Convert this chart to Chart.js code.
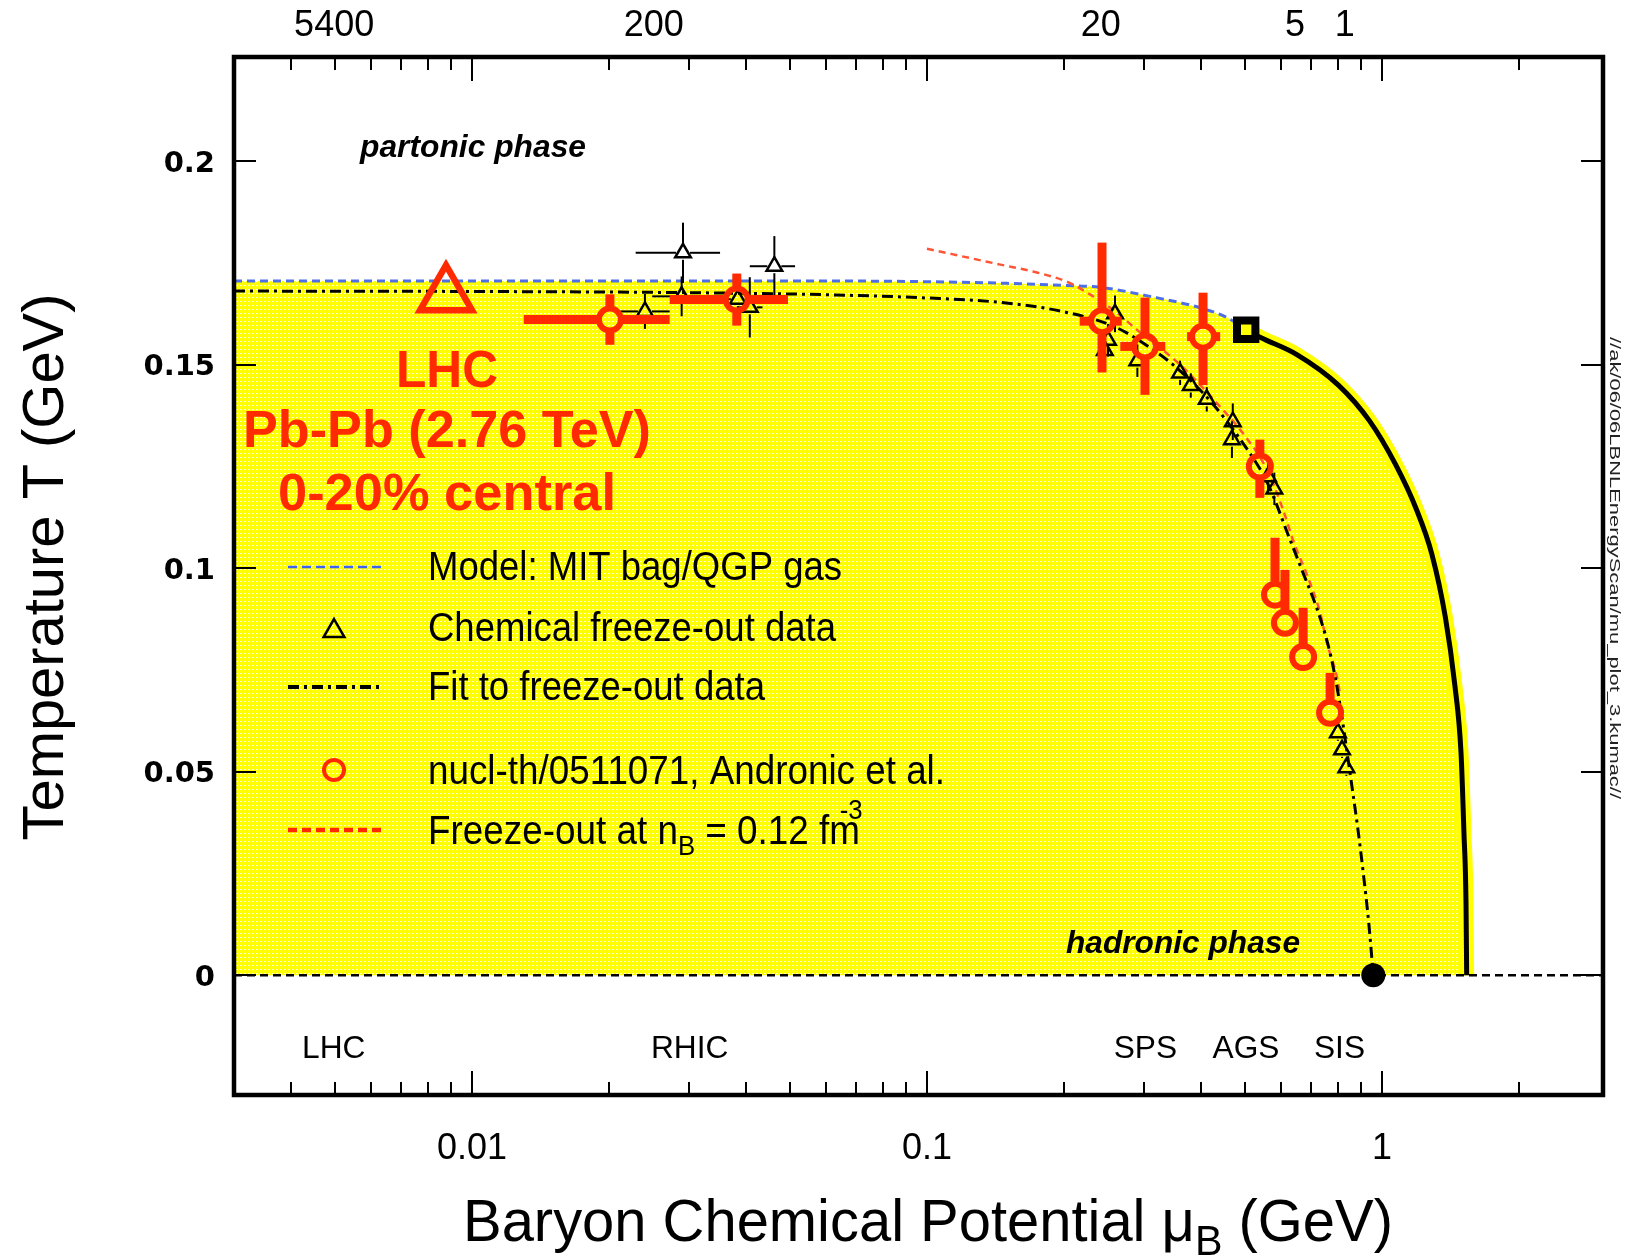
<!DOCTYPE html>
<html>
<head>
<meta charset="utf-8">
<title>QCD phase diagram</title>
<script src="https://cdn.jsdelivr.net/npm/chart.js@4.4.0/dist/chart.umd.min.js"></script>
<style>
  html, body { margin: 0; padding: 0; background: #fff; overflow: hidden; }
  #wrap { width: 1627px; height: 1260px; }
  canvas { display: block; }
</style>
</head>
<body>
<div id="wrap"><canvas id="phaseChart" width="1627" height="1260"></canvas></div>
<script>
// axis ranges (muB in GeV, T in GeV)
const X_MIN = 0.003, X_MAX = 3.06;
const Y_MIN = -0.0294, Y_MAX = 0.2256;

const yTickValues = [0, 0.05, 0.1, 0.15, 0.2];
const yTickLabels = ['0', '0.05', '0.1', '0.15', '0.2'];
const xMajorTicks = [0.01, 0.1, 1];
const xMajorLabels = ['0.01', '0.1', '1'];
const xMinorTicks = [0.004, 0.005, 0.006, 0.007, 0.008, 0.009,
  0.02, 0.03, 0.04, 0.05, 0.06, 0.07, 0.08, 0.09,
  0.2, 0.3, 0.4, 0.5, 0.6, 0.7, 0.8, 0.9, 2];
// sqrt(s_NN) labels on the top axis
const topLabels = ['5400', '200', '20', '5', '1'];
const topLabelMu = [0.00498, 0.0251, 0.241, 0.644, 0.828];
const facilities = ['LHC', 'RHIC', 'SPS', 'AGS', 'SIS'];
const facilityMu = [0.00497, 0.0301, 0.302, 0.5025, 0.8066];

// MIT bag / QGP gas boundary (blue dashed)
const mitBagMu = [0.003, 0.05, 0.1, 0.15, 0.2, 0.241, 0.309, 0.398, 0.456, 0.503];
const mitBagT  = [0.1706, 0.1706, 0.1704, 0.1700, 0.1695, 0.1690, 0.1668, 0.1640, 0.1616, 0.1586];
// first order transition line (solid black)
const transMu = [0.503, 0.541, 0.65, 0.802, 0.939, 1.071, 1.19, 1.287, 1.378, 1.445, 1.492, 1.514, 1.530, 1.535];
const transT  = [0.1586, 0.1567, 0.1525, 0.1450, 0.1362, 0.1255, 0.1145, 0.1035, 0.0880, 0.0715, 0.0545, 0.0350, 0.0175, 0];
// fit to freeze-out data (dash-dot)
const fitMu = [0.003, 0.01, 0.03, 0.06, 0.1, 0.145, 0.2, 0.26, 0.325, 0.36, 0.42, 0.5, 0.56, 0.628, 0.67, 0.72, 0.76, 0.79, 0.815, 0.835, 0.86, 0.885, 0.91, 0.935, 0.957];
const fitT  = [0.1681, 0.1680, 0.1677, 0.1672, 0.1664, 0.1653, 0.1630, 0.1592, 0.1525, 0.1485, 0.1410, 0.1300, 0.1210, 0.1070, 0.0990, 0.0900, 0.0815, 0.0730, 0.0640, 0.0560, 0.0460, 0.0360, 0.0250, 0.0130, 0];
// freeze-out at n_B = 0.12 fm^-3 (red dashed)
const nbMu = [0.1, 0.145, 0.171, 0.203, 0.225, 0.26, 0.29, 0.36, 0.43, 0.5, 0.559, 0.606, 0.637, 0.695, 0.731, 0.757, 0.796, 0.808];
const nbT  = [0.1785, 0.1746, 0.1729, 0.1704, 0.1677, 0.1630, 0.1585, 0.1500, 0.1410, 0.1325, 0.1242, 0.1144, 0.1070, 0.0964, 0.0891, 0.0817, 0.0733, 0.0694];

// chemical freeze-out data (triangles)
const triMu   = [0.0291, 0.0462, 0.0240, 0.0289, 0.0384, 0.0408, 0.259, 0.250, 0.246, 0.290, 0.360, 0.380, 0.412, 0.470, 0.468, 0.562, 0.580, 0.800, 0.817, 0.835];
const triT    = [0.1775, 0.1742, 0.1631, 0.1668, 0.1661, 0.1641, 0.1625, 0.1560, 0.1535, 0.1510, 0.1480, 0.1449, 0.1415, 0.1360, 0.1316, 0.1225, 0.1195, 0.0596, 0.0554, 0.0510];
const triTErr = [0.0074, 0.0074, 0.0043, 0.0049, 0.0058, 0.0074, 0.0045, 0.004, 0.004, 0.004, 0.003, 0.003, 0.003, 0.0045, 0.0045, 0.004, 0.004, 0.002, 0.002, 0.002];
const triMuLo = [0.0229, 0.0408, 0.0212, 0.0249, 0.0341, 0.0383, null, null, null, null, null, null, null, null, null, null, null, null, null, null];
const triMuHi = [0.0351, 0.0513, 0.0272, 0.0298, 0.0435, 0.0435, null, null, null, null, null, null, null, null, null, null, null, null, null, null];

// nucl-th/0511071, Andronic et al. (red circles)
const andMu   = [0.0201, 0.0382, 0.2425, 0.3014, 0.4043, 0.539, 0.582, 0.612, 0.671, 0.769];
const andT    = [0.1611, 0.1660, 0.1607, 0.1545, 0.1569, 0.1250, 0.0935, 0.0866, 0.0782, 0.0645];
const andTLo  = [0.1549, 0.1596, 0.1481, 0.1426, 0.1450, 0.1173, 0.0935, 0.0866, 0.0782, 0.0645];
const andTHi  = [0.1673, 0.1724, 0.1800, 0.1665, 0.1677, 0.1316, 0.1075, 0.0996, 0.0903, 0.0743];
const andMuLo = [0.0130, 0.0272, 0.2166, 0.266, 0.373, null, null, null, null, null];
const andMuHi = [0.0272, 0.0495, 0.268, 0.334, 0.441, null, null, null, null, null];

// LHC Pb-Pb 2.76 TeV point, critical point, nuclear matter point
const lhcMu = [0.00877], lhcT = [0.1671];
const critMu = [0.503], critT = [0.1586];
const nucMu = [0.957], nucT = [0];

const RED = '#ff2a00';
const pts = (xs, ys) => xs.map((x, i) => ({ x: x, y: ys[i] }));

// yellow fill with a faint white dash texture
function yellowPattern() {
  const tile = document.createElement('canvas');
  tile.width = 4; tile.height = 4;
  const g = tile.getContext('2d');
  g.fillStyle = '#ffff00';
  g.fillRect(0, 0, 4, 4);
  g.fillStyle = 'rgba(255,255,255,0.85)';
  g.fillRect(0, 1, 2, 1);
  return g.createPattern(tile, 'repeat');
}

// draws a row of text pieces, stretched to a target width
function drawRuns(ctx, runs, x, y, opts) {
  const o = opts || {};
  let total = 0;
  runs.forEach(r => {
    ctx.font = r.font;
    r.w = ctx.measureText(r.t).width;
    if (!r.overlay) total += r.w;
  });
  const s = o.width ? o.width / total : (o.scale || 1);
  ctx.save();
  ctx.fillStyle = o.color || '#000';
  ctx.textAlign = 'left';
  ctx.textBaseline = 'alphabetic';
  ctx.translate(x, y);
  if (o.rotate) ctx.rotate(o.rotate);
  ctx.scale(s, 1);
  let cx = o.align === 'center' ? -total / 2 : o.align === 'right' ? -total : 0;
  runs.forEach(r => {
    ctx.font = r.font;
    ctx.fillText(r.t, cx + (r.dx || 0), r.dy || 0);
    if (!r.overlay) cx += r.w;
  });
  ctx.restore();
}

const SANS = '"Liberation Sans", Arial, sans-serif';

// error bars, drawn under the markers of a dataset
const errorBars = {
  id: 'errorBars',
  beforeDatasetDraw(chart, args) {
    const ds = chart.data.datasets[args.index];
    if (!ds.errors) return;
    const xs = chart.scales.x, ys = chart.scales.y, ctx = chart.ctx;
    const e = ds.errors;
    ctx.save();
    ctx.strokeStyle = ds.errColor;
    ctx.lineWidth = ds.errWidth;
    ctx.lineCap = 'butt';
    ds.data.forEach((p, i) => {
      const px = xs.getPixelForValue(p.x), py = ys.getPixelForValue(p.y);
      const gap = ds.errGap;
      const seg = (x1, y1, x2, y2) => { ctx.beginPath(); ctx.moveTo(x1, y1); ctx.lineTo(x2, y2); ctx.stroke(); };
      const top = ys.getPixelForValue(e.tHi[i]), bot = ys.getPixelForValue(e.tLo[i]);
      if (py - top > gap) seg(px, py - gap, px, top);
      if (bot - py > gap) seg(px, py + gap, px, bot);
      if (e.muLo[i] != null) {
        const l = xs.getPixelForValue(e.muLo[i]), r = xs.getPixelForValue(e.muHi[i]);
        if (px - l > gap) seg(px - gap, py, l, py);
        if (r - px > gap) seg(px + gap, py, r, py);
      }
    });
    ctx.restore();
  }
};

// frame, inward ticks, labels, legend and annotations
const decor = {
  id: 'decor',
  afterDatasetsDraw(chart) {
    const ctx = chart.ctx, xs = chart.scales.x, ys = chart.scales.y, a = chart.chartArea;
    const H = Chart.helpers;

    // legend
    ctx.save();
    ctx.lineCap = 'butt';
    const line = (y, color, w, dash) => {
      ctx.strokeStyle = color; ctx.lineWidth = w; ctx.setLineDash(dash);
      ctx.beginPath(); ctx.moveTo(288, y); ctx.lineTo(384, y); ctx.stroke();
      ctx.setLineDash([]);
    };
    line(567, '#3d63ee', 2.5, [9, 5]);
    ctx.strokeStyle = '#000'; ctx.fillStyle = 'rgba(0,0,0,0)';
    H.drawPoint(ctx, { pointStyle: 'triangle', radius: 12, borderWidth: 3, rotation: 0 }, 334, 631);
    line(687, '#000', 4, [11, 5, 3, 5]);
    ctx.strokeStyle = RED;
    H.drawPoint(ctx, { pointStyle: 'circle', radius: 10, borderWidth: 6, rotation: 0 }, 334, 770);
    line(830, RED, 4.5, [9, 5]);
    ctx.restore();

    const legFont = '40px ' + SANS;
    drawRuns(ctx, [{ t: 'Model: MIT bag/QGP gas', font: legFont }], 428, 580, { width: 414 });
    drawRuns(ctx, [{ t: 'Chemical freeze-out data', font: legFont }], 428, 641, { width: 408 });
    drawRuns(ctx, [{ t: 'Fit to freeze-out data', font: legFont }], 428, 700, { width: 337 });
    drawRuns(ctx, [{ t: 'nucl-th/0511071, Andronic et al.', font: legFont }], 428, 784, { width: 517 });
    drawRuns(ctx, [
      { t: 'Freeze-out at n', font: legFont },
      { t: 'B', font: '28px ' + SANS, dy: 11 },
      { t: ' = 0.12 fm', font: legFont },
      { t: '-3', font: '28px ' + SANS, dy: -25, dx: -22, overlay: true }
    ], 428, 844, { width: 432 });

    // phase labels
    const bi = 'italic bold 31px ' + SANS;
    drawRuns(ctx, [{ t: 'partonic phase', font: bi }], 360, 157, { width: 226 });
    drawRuns(ctx, [{ t: 'hadronic phase', font: bi }], 1066, 953, { width: 234 });

    // LHC annotation
    const rb = 'bold 52px ' + SANS;
    drawRuns(ctx, [{ t: 'LHC', font: rb }], 447, 387, { align: 'center', width: 102, color: RED });
    drawRuns(ctx, [{ t: 'Pb-Pb (2.76 TeV)', font: rb }], 447, 447, { align: 'center', width: 408, color: RED });
    drawRuns(ctx, [{ t: '0-20% central', font: rb }], 447, 510, { align: 'center', width: 338, color: RED });

    // facility names
    facilities.forEach((f, i) => {
      drawRuns(ctx, [{ t: f, font: '32px ' + SANS }], xs.getPixelForValue(facilityMu[i]), 1058, { align: 'center', scale: 0.99 });
    });

    // frame and inward ticks
    ctx.save();
    ctx.strokeStyle = '#000';
    ctx.lineWidth = 2;
    const tick = (x1, y1, x2, y2) => { ctx.beginPath(); ctx.moveTo(x1, y1); ctx.lineTo(x2, y2); ctx.stroke(); };
    xMinorTicks.forEach(v => {
      const px = Math.round(xs.getPixelForValue(v));
      tick(px, a.bottom, px, a.bottom - 13);
      tick(px, a.top, px, a.top + 13);
    });
    xMajorTicks.forEach(v => {
      const px = Math.round(xs.getPixelForValue(v));
      tick(px, a.bottom, px, a.bottom - 24);
      tick(px, a.top, px, a.top + 24);
    });
    yTickValues.forEach(v => {
      const py = Math.round(ys.getPixelForValue(v));
      tick(a.left, py, a.left + 22, py);
      tick(a.right, py, a.right - 22, py);
    });
    ctx.lineWidth = 4.5;
    ctx.strokeRect(a.left, a.top, a.right - a.left, a.bottom - a.top);
    ctx.restore();

    // tick labels
    yTickValues.forEach((v, i) => {
      drawRuns(ctx, [{ t: yTickLabels[i], font: 'bold 29px "DejaVu Sans", sans-serif' }],
        215, ys.getPixelForValue(v) + 10.5, { align: 'right' });
    });
    xMajorTicks.forEach((v, i) => {
      drawRuns(ctx, [{ t: xMajorLabels[i], font: '36px ' + SANS }], xs.getPixelForValue(v), 1159, { align: 'center' });
    });
    topLabels.forEach((t, i) => {
      drawRuns(ctx, [{ t: t, font: '36px ' + SANS }], xs.getPixelForValue(topLabelMu[i]), 36, { align: 'center' });
    });

    // axis titles
    drawRuns(ctx, [
      { t: 'Baryon Chemical Potential ', font: '59px ' + SANS },
      { t: '\u03bc', font: '59px ' + SANS },
      { t: 'B', font: '42px ' + SANS, dy: 14 },
      { t: ' (GeV)', font: '59px ' + SANS }
    ], 463, 1241, { width: 930 });
    drawRuns(ctx, [{ t: 'Temperature T (GeV)', font: '58px ' + SANS }], 63, 567,
      { align: 'center', width: 547, rotate: -Math.PI / 2 });
    drawRuns(ctx, [{ t: '//ak/06/06LBNLEnergyScan/mu_plot_3.kumac//', font: '15px ' + SANS }], 1610, 568,
      { align: 'center', width: 462, rotate: Math.PI / 2, color: '#222' });
  }
};

const lineBase = { showLine: true, pointRadius: 0, fill: false, cubicInterpolationMode: 'monotone' };

const myChart = new Chart(document.getElementById('phaseChart'), {
  type: 'scatter',
  data: {
    datasets: [
      Object.assign({}, lineBase, {
        label: 'region',
        data: pts(mitBagMu.concat(transMu.slice(1)), mitBagT.concat(transT.slice(1))),
        fill: 'origin', backgroundColor: yellowPattern(), borderWidth: 0, borderColor: 'rgba(0,0,0,0)', order: 20
      }),
      Object.assign({}, lineBase, {
        label: 'glow', data: pts(transMu, transT), borderColor: '#ffff00', borderWidth: 15, order: 19
      }),
      {
        label: 'zero', data: [{ x: X_MIN, y: 0 }, { x: X_MAX, y: 0 }], showLine: true, pointRadius: 0,
        borderColor: '#000', borderWidth: 2.5, borderDash: [8, 5], order: 18
      },
      Object.assign({}, lineBase, {
        label: 'Model: MIT bag/QGP gas', data: pts(mitBagMu, mitBagT),
        borderColor: '#4f6fe8', borderWidth: 3, borderDash: [8, 5], order: 17
      }),
      Object.assign({}, lineBase, {
        label: 'Freeze-out at nB = 0.12 fm-3', data: pts(nbMu, nbT),
        borderColor: '#ff5535', borderWidth: 2.5, borderDash: [7, 5], order: 16
      }),
      Object.assign({}, lineBase, {
        label: 'Fit to freeze-out data', data: pts(fitMu, fitT),
        borderColor: '#000', borderWidth: 3, borderDash: [11, 5, 3, 5], order: 15
      }),
      Object.assign({}, lineBase, {
        label: 'transition', data: pts(transMu, transT), borderColor: '#000', borderWidth: 5, order: 14
      }),
      {
        label: 'Chemical freeze-out data', data: pts(triMu, triT),
        pointStyle: 'triangle', pointRadius: 9, borderWidth: 2.5, borderColor: '#000',
        backgroundColor: 'rgba(0,0,0,0)', order: 5,
        errors: { tLo: triT.map((t, i) => t - triTErr[i]), tHi: triT.map((t, i) => t + triTErr[i]), muLo: triMuLo, muHi: triMuHi },
        errColor: '#000', errWidth: 2, errGap: 7
      },
      {
        label: 'nucl-th/0511071, Andronic et al.', data: pts(andMu, andT),
        pointStyle: 'circle', pointRadius: 11, borderWidth: 6, borderColor: RED,
        backgroundColor: 'rgba(0,0,0,0)', order: 4,
        errors: { tLo: andTLo, tHi: andTHi, muLo: andMuLo, muHi: andMuHi },
        errColor: RED, errWidth: 9, errGap: 13
      },
      {
        label: 'critical', data: pts(critMu, critT), pointStyle: 'rect', pointRadius: 13,
        borderWidth: 8, borderColor: '#000', backgroundColor: '#ffff00', order: 3
      },
      {
        label: 'nuclear matter', data: pts(nucMu, nucT), pointStyle: 'circle', pointRadius: 12,
        borderWidth: 0, backgroundColor: '#000', order: 2
      },
      {
        label: 'LHC', data: pts(lhcMu, lhcT), pointStyle: 'triangle', pointRadius: 30,
        borderWidth: 6.5, borderColor: RED, backgroundColor: 'rgba(0,0,0,0)', order: 1
      }
    ]
  },
  options: {
    responsive: false,
    devicePixelRatio: 1,
    animation: false,
    layout: { autoPadding: false, padding: { left: 234, right: 24, top: 57, bottom: 165 } },
    scales: {
      x: { type: 'logarithmic', min: X_MIN, max: X_MAX, display: false },
      y: { type: 'linear', min: Y_MIN, max: Y_MAX, display: false }
    },
    plugins: {
      legend: { display: false },
      tooltip: { enabled: false }
    }
  },
  plugins: [errorBars, decor]
});
</script>
</body>
</html>
